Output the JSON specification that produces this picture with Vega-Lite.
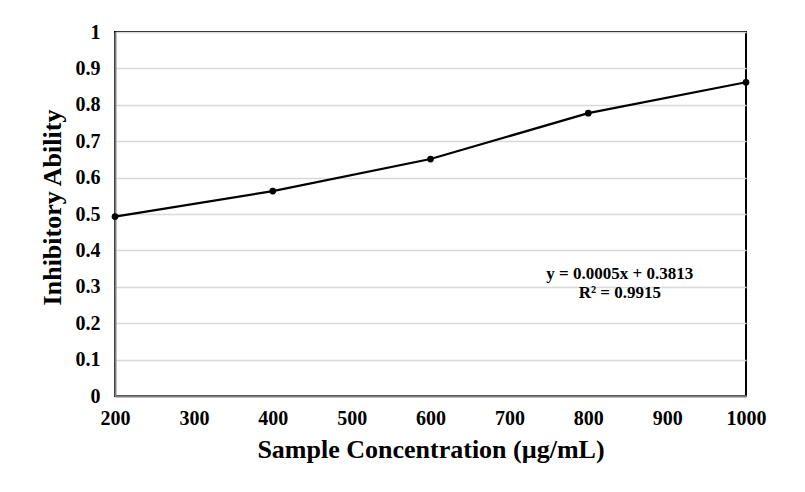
{
  "$schema": "https://vega.github.io/schema/vega-lite/v6.json",
  "width": 631,
  "height": 364,
  "autosize": {"type": "none"},
  "padding": {"left": 115, "top": 32, "right": 59, "bottom": 96},
  "background": "white",
  "config": {
    "view": {"stroke": "#000000", "strokeWidth": 2},
    "font": "Liberation Serif"
  },
  "datasets": {
    "pts": [
      {"conc": 200, "ability": 0.493},
      {"conc": 400, "ability": 0.563},
      {"conc": 600, "ability": 0.651},
      {"conc": 800, "ability": 0.777},
      {"conc": 1000, "ability": 0.862}
    ],
    "eq": [
      {"conc": 840, "ability": 0.336, "label": "y = 0.0005x + 0.3813"},
      {"conc": 840, "ability": 0.283, "label": "R² = 0.9915"}
    ]
  },
  "encoding": {
    "x": {
      "field": "conc", "type": "quantitative",
      "scale": {"domain": [200, 1000], "nice": false},
      "axis": {
        "title": "Sample Concentration (µg/mL)",
        "titleFont": "Liberation Serif", "titleFontSize": 26, "titleFontWeight": "bold", "titleColor": "#000000",
        "titlePadding": 8,
        "values": [200, 300, 400, 500, 600, 700, 800, 900, 1000],
        "format": "d",
        "labelFont": "Liberation Serif", "labelFontSize": 20, "labelFontWeight": "bold", "labelColor": "#000000",
        "labelPadding": 12, "labelFlush": false, "labelOverlap": false,
        "ticks": false, "grid": false,
        "domainColor": "#808080", "domainWidth": 2
      }
    },
    "y": {
      "field": "ability", "type": "quantitative",
      "scale": {"domain": [0, 1], "nice": false},
      "axis": {
        "title": "Inhibitory Ability",
        "titleFont": "Liberation Serif", "titleFontSize": 26, "titleFontWeight": "bold", "titleColor": "#000000",
        "titlePadding": 10,
        "titleY": 175,
        "values": [0, 0.1, 0.2, 0.3, 0.4, 0.5, 0.6, 0.7, 0.8, 0.9, 1],
        "format": ".1~f",
        "labelFont": "Liberation Serif", "labelFontSize": 20, "labelFontWeight": "bold", "labelColor": "#000000",
        "labelPadding": 15, "labelFlush": false, "labelOverlap": false,
        "ticks": false,
        "grid": true, "gridColor": "#d9d9d9", "gridWidth": 1.5,
        "domainColor": "#808080", "domainWidth": 2
      }
    }
  },
  "layer": [
    {
      "data": {"name": "pts"},
      "mark": {"type": "line", "color": "#000000", "strokeWidth": 2.2, "clip": false}
    },
    {
      "data": {"name": "pts"},
      "mark": {"type": "point", "filled": true, "color": "#000000", "size": 45, "opacity": 1, "clip": false}
    },
    {
      "data": {"name": "eq"},
      "mark": {"type": "text", "font": "Liberation Serif", "fontSize": 17, "fontWeight": "bold", "color": "#000000", "align": "center", "baseline": "middle"},
      "encoding": {
        "text": {"field": "label"}
      }
    }
  ]
}
